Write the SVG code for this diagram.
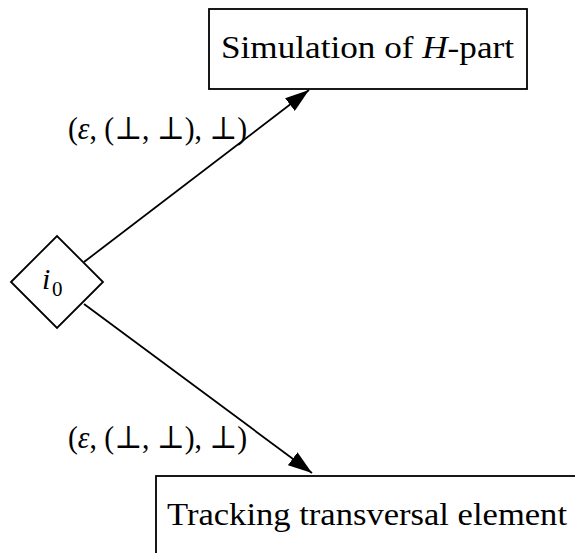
<svg xmlns="http://www.w3.org/2000/svg" width="575" height="553" viewBox="0 0 575 553">
<style>
.box{fill:#fff;stroke:#000;stroke-width:1.8}
.edge{fill:none;stroke:#000;stroke-width:1.8}
.t{font-family:"Liberation Serif","DejaVu Serif",serif;fill:#000}
.lbl{font-size:32px}
.node{font-size:32px}
</style>
<defs>
<marker id="arr" markerWidth="24" markerHeight="16" refX="24" refY="8" orient="auto" markerUnits="userSpaceOnUse">
<path d="M0,0 L24,8 L0,16 Z" fill="#000"/>
</marker>
</defs>
<rect width="575" height="553" fill="#fff"/>
<g id="connectors">
<line class="edge" x1="84" y1="262" x2="309" y2="90" marker-end="url(#arr)"/>
<line class="edge" x1="84" y1="304" x2="312" y2="473" marker-end="url(#arr)"/>
<text class="t lbl" x="68" y="139" textLength="179" lengthAdjust="spacingAndGlyphs">(<tspan font-style="italic">ε</tspan>, (⊥, ⊥), ⊥)</text>
<text class="t lbl" x="68" y="448" textLength="179" lengthAdjust="spacingAndGlyphs">(<tspan font-style="italic">ε</tspan>, (⊥, ⊥), ⊥)</text>
</g>
<g id="i0">
<polygon class="box" points="11,282 57,236 103,282 57,328"/>
<text class="t" x="42" y="289" font-size="30" font-style="italic">i</text>
<text class="t" x="52" y="296" font-size="21">0</text>
</g>
<g id="sim">
<rect class="box" x="209" y="9" width="318" height="80"/>
<text class="t node" x="221" y="58" textLength="293" lengthAdjust="spacingAndGlyphs">Simulation of <tspan font-style="italic">H</tspan>-part</text>
</g>
<g id="track">
<rect class="box" x="156" y="476" width="424" height="82"/>
<text class="t node" x="167" y="525" textLength="400" lengthAdjust="spacingAndGlyphs">Tracking transversal element</text>
</g>
</svg>
